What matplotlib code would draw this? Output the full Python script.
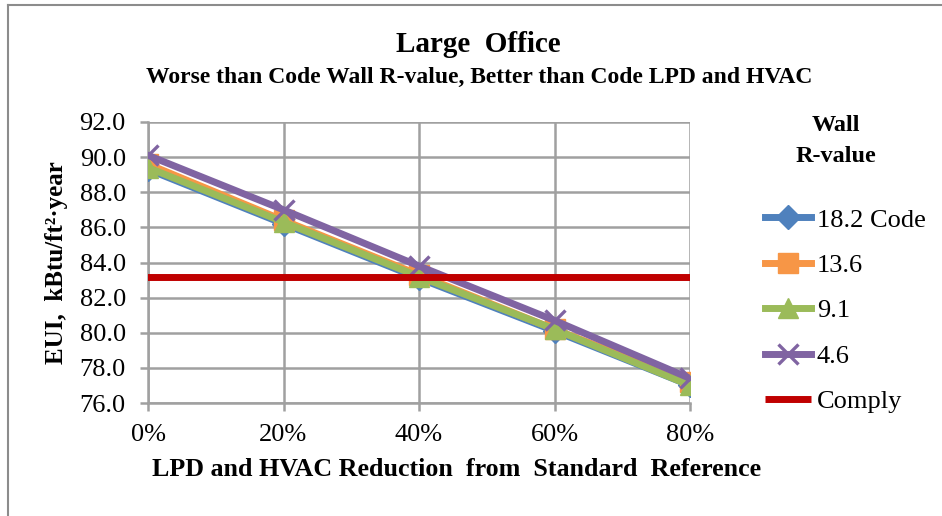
import matplotlib.pyplot as plt
from matplotlib.lines import Line2D

plt.rcParams['font.family'] = ['Liberation Serif', 'DejaVu Serif']

# data
categories = ["0%", "20%", "40%", "60%", "80%"]
eui_18_2 = [89.3, 86.2, 83.1, 80.1, 77.0]
eui_13_6 = [89.6, 86.4, 83.3, 80.2, 77.2]
eui_9_1 = [89.4, 86.3, 83.2, 80.2, 77.0]
eui_4_6 = [90.1, 87.0, 83.8, 80.7, 77.4]
comply = 83.2
y_ticks = [76.0, 78.0, 80.0, 82.0, 84.0, 86.0, 88.0, 90.0, 92.0]

W, H = 942, 516
fig = plt.figure(figsize=(W / 100, H / 100), dpi=100)
ax = fig.add_axes([148 / W, 1 - 403 / H, (690 - 148) / W, (403 - 122) / H])

x = list(range(len(categories)))
grey = "#a0a0a0"

series = [
    ("18.2 Code", eui_18_2, "#4f81bd", "D", 12),
    ("13.6", eui_13_6, "#f79646", "s", 14),
    ("9.1", eui_9_1, "#9bbb59", "^", 15),
    ("4.6", eui_4_6, "#8064a2", "x", 15),
]
handles = []
for label, vals, color, marker, ms in series:
    kw = dict(color=color, lw=5, marker=marker, ms=ms, zorder=3)
    if marker == "x":
        kw.update(mew=2.4)
    else:
        kw.update(mec=color)
    line, = ax.plot(x, vals, label=label, **kw)
    handles.append(line)

red, = ax.plot([-0.5, 4.5], [comply, comply], color="#c00000", lw=5,
               label="Comply", zorder=4, solid_capstyle="butt")
ax.set_xlim(0, 4)
handles.append(red)

ax.set_ylim(76, 92)
ax.set_yticks(y_ticks)
ax.set_yticklabels([f"{v:.1f}" for v in y_ticks])
ax.set_xticks(x)
ax.set_xticklabels(categories)
ax.grid(True, color=grey, lw=1.8)
ax.set_axisbelow(True)
for side in ["top", "right"]:
    ax.spines[side].set_visible(False)
for side in ["left", "bottom"]:
    ax.spines[side].set_color(grey)
    ax.spines[side].set_linewidth(1.8)
ax.tick_params(axis="both", colors=grey, width=1.8, length=6, labelsize=19,
               labelcolor="black")
ax.tick_params(axis="y", pad=10)
ax.tick_params(axis="x", pad=9)

fig.text(478 / W, 1 - 45 / H, "Large  Office", ha="center", va="center",
         fontsize=21, fontweight="bold")
fig.text(479 / W, 1 - 77 / H,
         "Worse than Code Wall R-value, Better than Code LPD and HVAC",
         ha="center", va="center", fontsize=17, fontweight="bold")
fig.text(457 / W, 1 - 469 / H,
         "LPD and HVAC Reduction  from  Standard  Reference",
         ha="center", va="center", fontsize=18.7, fontweight="bold")
fig.text(57 / W, 1 - 263 / H, "EUI,  kBtu/ft²·year", rotation=90,
         ha="center", va="center", fontsize=18, fontweight="bold")

fig.text(836 / W, 1 - 141 / H, "Wall\nR-value", ha="center", va="center",
         fontsize=17.5, fontweight="bold", linespacing=1.6)
fig.legend(handles=handles, loc="upper left",
           bbox_to_anchor=(752 / W, 1 - 195 / H), frameon=False,
           fontsize=19, labelspacing=0.83, handlelength=1.75,
           handletextpad=0.2, borderpad=0)

# outer chart border (top and left edges visible)
fig.add_artist(Line2D([8 / W, 1], [1 - 5 / H, 1 - 5 / H], color="#8c8c8c", lw=1.5))
fig.add_artist(Line2D([8 / W, 8 / W], [0, 1 - 5 / H], color="#8c8c8c", lw=1.5))

fig.savefig("out.png", dpi=100)
